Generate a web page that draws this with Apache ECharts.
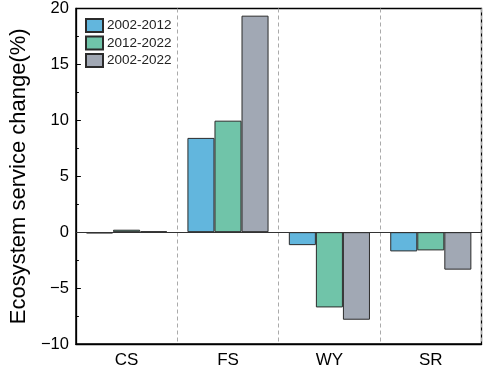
<!DOCTYPE html>
<html>
<head>
<meta charset="utf-8">
<script src="https://cdn.jsdelivr.net/npm/echarts@6/dist/echarts.min.js"></script>
<style>html,body{margin:0;padding:0;background:#fff}#c{width:484px;height:369px}</style>
</head>
<body>
<div id="c"></div>
<script>
const categories = ['CS', 'FS', 'WY', 'SR'];
const seriesNames = ['2002-2012', '2012-2022', '2002-2022'];
const v2002_2012 = [-0.12, 8.43, -1.16, -1.72];
const v2012_2022 = [0.22, 9.97, -6.73, -1.63];
const v2002_2022 = [0.07, 19.36, -7.83, -3.35];
const colors = ['#62b6dd', '#70c4a9', '#a1a8b4'];
const yTicks = [-10, -5, 0, 5, 10, 15, 20];

const chart = echarts.init(document.getElementById('c'), null, {renderer: 'canvas'});
const dataSets = [v2002_2012, v2012_2022, v2002_2022];
const series = dataSets.map((d, i) => ({
  name: seriesNames[i],
  type: 'bar',
  data: d,
  barGap: '0%',
  barCategoryGap: '20%',
  itemStyle: {color: colors[i], borderColor: '#2b2b2b', borderWidth: 1},
  markLine: i === 0 ? {
    silent: true, symbol: 'none', label: {show: false},
    lineStyle: {color: '#333', width: 1.2, type: 'solid'},
    data: [{yAxis: 0}]
  } : undefined
}));

chart.setOption({
  animation: false,
  grid: {left: 62.5, right: 2.5, top: 8.5, bottom: 24, show: true, borderColor: '#000', borderWidth: 1.3, backgroundColor: 'transparent'},
  legend: {
    data: seriesNames, orient: 'vertical', left: 85, top: 18, padding: 0, icon: 'rect',
    itemWidth: 17, itemHeight: 13, itemGap: 2.5,
    textStyle: {fontFamily: 'Liberation Sans', fontSize: 13.5, color: '#222', padding: [0, 0, 0, -1]}
  },
  xAxis: {
    type: 'category', data: categories,
    axisLine: {show: true, lineStyle: {color: '#000', width: 1.3}, onZero: false},
    axisTick: {show: false},
    axisLabel: {fontFamily: 'Liberation Sans', fontSize: 17, color: '#000', margin: 8},
    splitLine: {show: true, lineStyle: {color: '#aaa', type: [4, 3], width: 1}}
  },
  yAxis: {
    type: 'value', min: yTicks[0], max: yTicks[yTicks.length - 1], interval: 5,
    name: 'Ecosystem service change(%)', nameLocation: 'middle', nameGap: 39,
    nameTextStyle: {fontFamily: 'Liberation Sans', fontSize: 22, color: '#000'},
    axisLine: {show: true, lineStyle: {color: '#000', width: 1.3}},
    axisTick: {show: true, inside: true, length: 5, lineStyle: {color: '#000', width: 1}},
    minorTick: {show: true, splitNumber: 2, length: 3, lineStyle: {color: '#000', width: 1}},
    axisLabel: {fontFamily: 'Liberation Sans', fontSize: 16.5, color: '#000', margin: 7,
      formatter: v => (v < 0 ? '\u2212' + Math.abs(v) : String(v))},
    splitLine: {show: false}
  },
  series: series
});
</script>
</body>
</html>
